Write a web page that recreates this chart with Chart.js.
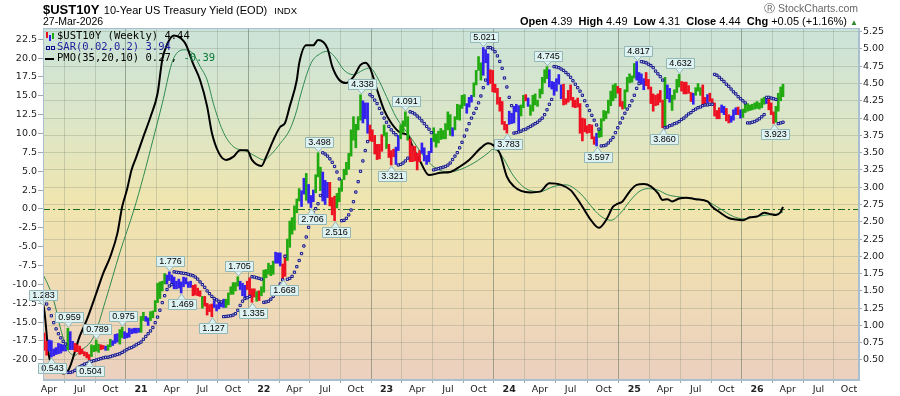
<!DOCTYPE html>
<html>
<head>
<meta charset="utf-8">
<script src="https://cdn.jsdelivr.net/npm/chart.js@4.4.1/dist/chart.umd.min.js"></script>
<style>
  body { margin: 0; width: 900px; height: 396px; overflow: hidden; background: #fff; position: relative; font-family: "Liberation Sans", Arial, sans-serif; }
  #chart { position: absolute; left: 0; top: 0; }
  .txt { position: absolute; white-space: nowrap; line-height: 1; color: #000; }
  .leg { position: absolute; left: 45px; white-space: nowrap; font-family: "DejaVu Sans Mono", monospace; font-size: 10.5px; line-height: 11px; }
  .ico { display: inline-block; vertical-align: middle; }
</style>
</head>
<body>
<canvas id="chart" width="900" height="396"></canvas>

<div class="txt" style="left:43px;top:1px;">
  <span style="font-weight:bold;font-size:13px;">$UST10Y</span>
  <span style="font-size:11px;">10-Year US Treasury Yield (EOD)</span>
  <span style="font-size:9.5px;">&nbsp;INDX</span>
</div>
<div class="txt" style="left:43px;top:16px;font-size:10.5px;">27-Mar-2026</div>
<div class="txt" style="right:42px;top:3px;font-size:10.5px;color:#666;">&#9415; StockCharts.com</div>
<div class="txt" style="right:42px;top:16px;font-size:11px;">
  <b>Open</b> 4.39&nbsp; <b>High</b> 4.49&nbsp; <b>Low</b> 4.31&nbsp; <b>Close</b> 4.44&nbsp; <b>Chg</b> +0.05 (+1.16%) <span style="color:#2a8a2a;font-size:8px;">&#9650;</span>
</div>

<div class="leg" style="top:30px;">
  <span class="ico" style="width:12px;height:9px;position:relative;">
    <span style="position:absolute;left:1px;top:0;width:2px;height:6px;background:#ee1122;"></span>
    <span style="position:absolute;left:4px;top:3px;width:2px;height:6px;background:#3322ee;"></span>
    <span style="position:absolute;left:7px;top:1px;width:2px;height:6px;background:#22aa11;"></span>
  </span><span>$UST10Y (Weekly) 4.44</span>
</div>
<div class="leg" style="top:41px;color:#1c1c9c;">
  <span class="ico" style="width:12px;height:9px;position:relative;">
    <span style="position:absolute;left:1px;top:3px;width:2px;height:2px;border:1px solid #14148a;background:#cfd6f2;"></span>
    <span style="position:absolute;left:6px;top:3px;width:2px;height:2px;border:1px solid #14148a;background:#cfd6f2;"></span>
  </span><span>SAR(0.02,0.2) 3.94</span>
</div>
<div class="leg" style="top:52px;">
  <span class="ico" style="width:12px;height:9px;position:relative;">
    <span style="position:absolute;left:0;top:4px;width:9px;height:2px;background:#000;"></span>
  </span><span>PMO(35,20,10) 0.27, <span style="color:#0a7a3a;">-0.39</span></span>
</div>

<script>
// weekly bars, index 0 = week ending Fri 20-Mar-2020
const startDate = Date.UTC(2020, 2, 20);
const DAY = 86400000;

const weekHigh = [
  // 2020
  1.283, 0.89, 0.77, 0.79, 0.78, 0.66, 0.68, 0.74, 0.73, 0.72, 0.71, 0.959, 0.91, 0.77, 0.74, 0.72, 0.70, 0.66, 0.62, 0.61, 0.58,
  0.72, 0.71, 0.789, 0.73, 0.72, 0.71, 0.70, 0.72, 0.80, 0.78, 0.87, 0.88, 0.94, 0.975, 0.91, 0.89, 0.96, 0.95, 0.96, 0.96,
  // 2021
  0.96, 1.13, 1.19, 1.13, 1.11, 1.20, 1.21, 1.36, 1.61, 1.63, 1.64, 1.75, 1.73, 1.776, 1.73, 1.70, 1.64, 1.67, 1.63, 1.70, 1.69,
  1.63, 1.64, 1.58, 1.59, 1.54, 1.50, 1.42, 1.42, 1.32, 1.30, 1.31, 1.36, 1.30, 1.33, 1.34, 1.38, 1.38, 1.47, 1.56, 1.62, 1.62,
  1.705, 1.64, 1.61, 1.58, 1.64, 1.69, 1.53, 1.53, 1.49, 1.50, 1.56,
  // 2022
  1.80, 1.81, 1.90, 1.87, 1.93, 2.06, 2.05, 2.05, 1.89, 2.02, 2.25, 2.51, 2.56, 2.73, 2.83, 2.98, 2.95, 3.13, 3.20, 3.04, 2.88,
  2.96, 3.18, 3.498, 3.29, 3.22, 3.10, 3.07, 3.07, 2.85, 2.87, 2.91, 2.99, 3.11, 3.26, 3.36, 3.49, 3.83, 4.02, 3.91, 4.02, 4.338,
  4.25, 4.22, 4.22, 3.90, 3.83, 3.75, 3.62, 3.62, 3.76, 3.90,
  // 2023
  3.79, 3.62, 3.53, 3.55, 3.58, 3.75, 3.90, 3.96, 4.091, 4.02, 3.70, 3.60, 3.59, 3.49, 3.53, 3.64, 3.57, 3.46, 3.52, 3.71, 3.86,
  3.77, 3.81, 3.85, 3.82, 3.92, 4.09, 4.05, 3.86, 4.02, 4.20, 4.19, 4.33, 4.34, 4.21, 4.30, 4.33, 4.51, 4.69, 4.89, 4.80, 5.021,
  4.99, 4.93, 4.70, 4.69, 4.49, 4.43, 4.30, 4.24, 3.95, 3.91,
  // 2024
  4.10, 4.07, 4.17, 4.20, 4.18, 4.19, 4.33, 4.34, 4.29, 4.19, 4.33, 4.35, 4.26, 4.42, 4.59, 4.70, 4.745, 4.70, 4.53, 4.52, 4.57,
  4.63, 4.48, 4.49, 4.28, 4.40, 4.48, 4.30, 4.26, 4.29, 4.21, 4.00, 3.99, 3.89, 3.91, 3.90, 3.73, 3.78, 3.83, 3.99, 4.11, 4.10,
  4.26, 4.39, 4.48, 4.50, 4.46, 4.43, 4.24, 4.41, 4.59, 4.64,
  // 2025 - 2026
  4.61, 4.79, 4.817, 4.66, 4.64, 4.57, 4.66, 4.56, 4.45, 4.35, 4.33, 4.35, 4.40, 4.26, 4.59, 4.48, 4.43, 4.33, 4.41, 4.56, 4.632,
  4.53, 4.52, 4.52, 4.47, 4.37, 4.36, 4.44, 4.50, 4.44, 4.48, 4.30, 4.34, 4.36, 4.28, 4.22, 4.11, 4.15, 4.19, 4.17, 4.14, 4.05,
  4.03, 4.12, 4.15, 4.16, 4.12, 4.13, 4.20, 4.21, 4.19, 4.20, 4.22, 4.24, 4.22, 4.28, 4.30, 4.28, 4.27, 4.22, 4.09, 4.17, 4.36,
  4.45, 4.49
];

const weekLow = [
  // 2020
  0.70, 0.64, 0.57, 0.63, 0.543, 0.56, 0.58, 0.59, 0.60, 0.63, 0.63, 0.65, 0.65, 0.65, 0.62, 0.62, 0.58, 0.59, 0.56, 0.53, 0.504,
  0.55, 0.62, 0.63, 0.61, 0.65, 0.66, 0.64, 0.64, 0.69, 0.71, 0.74, 0.76, 0.73, 0.82, 0.81, 0.82, 0.83, 0.88, 0.89, 0.89,
  // 2021
  0.90, 0.90, 1.07, 1.06, 1.00, 1.07, 1.11, 1.20, 1.33, 1.39, 1.50, 1.60, 1.60, 1.65, 1.58, 1.53, 1.53, 1.54, 1.469, 1.56, 1.60,
  1.55, 1.55, 1.43, 1.44, 1.43, 1.42, 1.25, 1.28, 1.15, 1.20, 1.127, 1.26, 1.21, 1.24, 1.27, 1.26, 1.26, 1.30, 1.45, 1.45, 1.50,
  1.57, 1.52, 1.43, 1.41, 1.52, 1.43, 1.335, 1.41, 1.35, 1.36, 1.43,
  // 2022
  1.48, 1.69, 1.74, 1.72, 1.74, 1.90, 1.90, 1.86, 1.668, 1.71, 1.94, 2.13, 2.32, 2.38, 2.63, 2.80, 2.72, 2.90, 2.81, 2.77, 2.706,
  2.79, 2.92, 3.15, 2.95, 2.80, 2.75, 2.85, 2.73, 2.60, 2.516, 2.70, 2.79, 2.94, 3.11, 3.18, 3.26, 3.45, 3.68, 3.57, 3.83, 3.97,
  3.93, 3.99, 3.78, 3.67, 3.66, 3.48, 3.40, 3.41, 3.52, 3.74,
  // 2023
  3.56, 3.43, 3.321, 3.44, 3.33, 3.53, 3.70, 3.79, 3.88, 3.68, 3.37, 3.37, 3.38, 3.25, 3.37, 3.49, 3.38, 3.33, 3.37, 3.50, 3.66,
  3.58, 3.64, 3.69, 3.70, 3.70, 3.83, 3.75, 3.74, 3.83, 3.98, 3.97, 4.14, 4.18, 4.07, 4.16, 4.23, 4.31, 4.48, 4.69, 4.55, 4.62,
  4.80, 4.48, 4.50, 4.38, 4.37, 4.20, 4.10, 3.91, 3.83, 3.783,
  // 2024
  3.91, 3.92, 3.93, 4.09, 3.82, 4.03, 4.15, 4.25, 4.17, 4.04, 4.10, 4.19, 4.17, 4.29, 4.35, 4.51, 4.57, 4.45, 4.42, 4.33, 4.39,
  4.49, 4.28, 4.19, 4.20, 4.23, 4.26, 4.16, 4.15, 4.16, 3.78, 3.67, 3.80, 3.78, 3.79, 3.70, 3.62, 3.597, 3.72, 3.73, 3.96, 3.99,
  4.07, 4.18, 4.25, 4.29, 4.36, 4.17, 4.13, 4.14, 4.38, 4.51,
  // 2025 - 2026
  4.52, 4.58, 4.55, 4.53, 4.49, 4.41, 4.47, 4.42, 4.21, 4.10, 4.18, 4.19, 4.23, 3.86, 3.88, 4.28, 4.23, 4.11, 4.27, 4.37, 4.45,
  4.39, 4.35, 4.35, 4.36, 4.24, 4.20, 4.33, 4.39, 4.33, 4.19, 4.19, 4.22, 4.24, 4.21, 4.03, 3.99, 3.99, 4.08, 4.05, 3.96, 3.93,
  3.94, 3.97, 4.05, 4.05, 4.00, 4.01, 4.08, 4.10, 4.11, 4.12, 4.13, 4.14, 4.13, 4.15, 4.20, 4.21, 4.12, 4.05, 3.923, 3.94, 4.10,
  4.25, 4.31
];

// Elder impulse colour of each bar: g = green, r = red, b = blue
const barColorCodes = [
  "rrrbbbbbbbbgbbrrrrrrrggggrrbggbbbggbbbbbb",
  "bggbbgggggggbbbbbbbbbbbrrrrgrrrrbbbbbggggggbbbrrrrgrg",
  "gggggbbbrrggggggbbgbbbgggbbbrrrgggggggggggbbbrrrrrrg",
  "grrrbbggggrrrrrbbbbbggggggggbgggggbbbggggbbbrrrrrrrr",
  "bbbbbggrbggggggggbbbbbbrrrrrrrrrrrrrrbggggggggrrrggg",
  "ggbbbbrrrrrrrrgbbggggrrrrrbgggrrbrrrrrbbrrbbbrbggggggggggbrrrgggg"
].join("");

// Parabolic SAR dot of each week
const sarValue = [
  1.40, 1.36, 1.31, 1.24, 1.14, 1.04, 0.95, 0.88, 0.82, 0.77, 0.73,
  0.32, 0.32, 0.33, 0.35, 0.38, 0.40, 0.42, 0.44, 0.45, 0.47, 0.48, 0.49, 0.50, 0.51, 0.52, 0.53, 0.54, 0.54, 0.55, 0.56,
  0.57, 0.58, 0.59, 0.61, 0.63, 0.65, 0.67, 0.68, 0.70, 0.72, 0.74, 0.76, 0.80, 0.84, 0.88, 0.92, 0.97, 1.04, 1.12, 1.22,
  1.33, 1.43, 1.52, 1.57, 1.59,
  1.776, 1.77, 1.765, 1.76, 1.755, 1.75, 1.74, 1.73, 1.72, 1.70, 1.67, 1.63, 1.59, 1.55, 1.50, 1.46, 1.42, 1.39, 1.37, 1.35, 1.34,
  1.127, 1.13, 1.135, 1.14, 1.15, 1.17, 1.22, 1.29, 1.35, 1.39, 1.40, 1.42,
  1.705, 1.70, 1.69, 1.68, 1.67,
  1.335, 1.34, 1.35, 1.38, 1.42, 1.47, 1.53, 1.60, 1.66,
  2.00,
  1.668, 1.68, 1.71, 1.77, 1.85, 1.94, 2.04, 2.15, 2.28, 2.42, 2.54, 2.63, 2.69, 2.76, 2.88,
  3.498, 3.48, 3.45, 3.41, 3.36, 3.30, 3.22, 3.12,
  2.516, 2.52, 2.55, 2.60, 2.67, 2.79, 2.93, 3.08, 3.23, 3.38, 3.53, 3.66,
  4.338, 4.31, 4.26, 4.21, 4.14, 4.07, 4.00, 3.94, 3.88, 3.83, 3.79, 3.76,
  3.321, 3.33, 3.35, 3.38, 3.42,
  4.091, 4.08, 4.06, 4.03, 4.00, 3.96, 3.92, 3.88, 3.84, 3.79,
  3.25, 3.26, 3.27, 3.28, 3.29, 3.30, 3.32, 3.35, 3.40, 3.45, 3.50, 3.57, 3.65, 3.74, 3.83, 3.92, 4.00, 4.07, 4.14, 4.22,
  4.32, 4.44, 4.55,
  5.021, 5.02, 5.00, 4.96, 4.90, 4.82, 4.72, 4.58, 4.45, 4.30, 4.18,
  3.783, 3.79, 3.80, 3.81, 3.83, 3.84, 3.86, 3.88, 3.90, 3.92, 3.94, 3.97, 4.00, 4.05, 4.12, 4.20, 4.27,
  4.745, 4.74, 4.73, 4.71, 4.69, 4.66, 4.63, 4.59, 4.54, 4.49, 4.44, 4.39, 4.33, 4.25, 4.18, 4.11, 4.04, 3.97, 3.90, 3.84,
  3.597, 3.60, 3.61, 3.64, 3.68, 3.72, 3.79, 3.86, 3.93, 4.00, 4.07, 4.13, 4.18, 4.25, 4.33, 4.43, 4.50,
  4.817, 4.81, 4.80, 4.78, 4.76, 4.73, 4.68, 4.64, 4.60, 4.55,
  3.86, 3.87, 3.89, 3.90, 3.92, 3.93, 3.95, 3.98, 4.00, 4.03, 4.06, 4.08, 4.11, 4.13, 4.15, 4.16, 4.18, 4.19, 4.19, 4.20, 4.20,
  4.632, 4.62, 4.59, 4.56, 4.53, 4.49, 4.46, 4.42, 4.38, 4.35, 4.31, 4.28, 4.25, 4.22,
  3.93, 3.93, 3.94, 3.95, 3.97, 3.99, 4.02, 4.05,
  4.30, 4.30, 4.29, 4.28, 4.27,
  3.92, 3.93, 3.94
];

// PMO(35,20,10) line and its signal, read at these weeks
const pmoWeek = [0, 1, 3, 6, 9, 11, 16, 19, 23, 26, 29, 32, 34, 36, 38, 40, 43, 46, 49, 51, 53, 56, 59, 61, 64, 67, 70, 72, 75, 78,
  81, 84, 87, 89, 93, 95, 98, 101, 103, 105, 108, 109, 112, 115, 117, 121, 123, 126, 129, 132, 135, 137, 139, 142, 145, 148,
  152, 155, 157, 160, 164, 169, 173, 177, 181, 186, 189, 191, 194, 197, 200, 203, 207, 211, 215, 220, 224, 228, 232, 236,
  239, 242, 244, 246, 249, 252, 255, 258, 261, 263, 265, 267, 270, 273, 277, 282, 284, 287, 291, 294, 297, 300, 303, 306,
  309, 311, 313, 314];
const pmoValue = [-12, -13.4, -19.5, -21.2, -21.8, -21.5, -16.9, -14.7, -11.2, -8.5, -6.3, -3.2, 0.3, 2.5, 5.2, 6.9, 9.6, 12.2,
  15.3, 19.8, 21.8, 23.0, 22.6, 21.8, 19.3, 17.1, 13.6, 10.1, 7.4, 6.5, 6.9, 7.8, 7.8, 6.5, 5.7, 6.9, 9.1, 10.9, 11.4, 13.6,
  17.1, 19.3, 21.7, 21.7, 22.4, 21.3, 18.9, 17.1, 16.7, 17.5, 19.1, 19.4, 18.7, 15.8, 13.1, 11.4, 10.1, 9.8, 8.3, 6.5, 4.5,
  4.8, 4.9, 5.6, 6.5, 8.1, 8.7, 8.5, 7.4, 4.3, 3.0, 2.4, 2.2, 2.3, 3.4, 3.2, 2.5, 0.8, -1.2, -2.5, -1.5, 0.3, 0.7, 1.0, 2.3,
  3.2, 3.3, 3.0, 2.1, 1.2, 1.3, 1.0, 1.4, 1.5, 1.3, 1.0, 0.3, -0.4, -1.2, -1.4, -1.5, -1.1, -1.0, -0.5, -0.7, -0.8, -0.4, 0.27];

const signalWeek = [0, 1, 5, 8, 11, 14, 16, 22, 27, 33, 39, 43, 47, 51, 55, 57, 60, 64, 67, 70, 73, 77, 81, 87, 91, 94, 97, 101,
  105, 108, 109, 114, 118, 121, 124, 128, 132, 136, 139, 142, 146, 150, 156, 162, 166, 172, 177, 183, 189, 191, 194, 200,
  205, 211, 217, 222, 228, 234, 237, 241, 245, 249, 253, 257, 261, 265, 270, 276, 282, 287, 293, 297, 301, 307, 311, 314];
const signalValue = [-8.5, -9.0, -12.1, -16.0, -18.7, -19.4, -18.9, -16.9, -12.1, -5.8, -0.1, 4.3, 9.1, 14.0, 19.3, 20.6, 21.1,
  20.6, 18.9, 17.1, 13.6, 10.1, 8.3, 7.6, 6.9, 6.5, 7.2, 8.7, 10.5, 13.1, 14.4, 19.3, 20.6, 20.9, 20.2, 18.4, 17.8, 18.4,
  18.7, 17.5, 14.9, 12.2, 9.6, 6.9, 5.6, 4.9, 5.2, 6.1, 7.4, 7.9, 7.4, 4.3, 2.7, 2.3, 3.0, 3.2, 2.1, -0.1, -1.0, -1.5, -0.6,
  1.0, 2.3, 2.7, 2.5, 1.9, 1.6, 1.4, 1.0, 0.1, -1.0, -1.3, -1.1, -0.8, -0.7, -0.39];

// swing labels
const peakWeek = [0, 11, 23, 34, 54, 83, 117, 135, 154, 187, 214, 252, 270];
const peakValue = [1.283, 0.959, 0.789, 0.975, 1.776, 1.705, 3.498, 4.338, 4.091, 5.021, 4.745, 4.817, 4.632];
const troughWeek = [4, 20, 59, 72, 89, 102, 114, 124, 148, 197, 235, 263, 310];
const troughValue = [0.543, 0.504, 1.469, 1.127, 1.335, 1.668, 2.706, 2.516, 3.321, 3.783, 3.597, 3.860, 3.923];

const priceTicks = [0.50, 0.75, 1.00, 1.25, 1.50, 1.75, 2.00, 2.25, 2.50, 2.75, 3.00, 3.25, 3.50, 3.75, 4.00, 4.25, 4.50, 4.75, 5.00, 5.25];
const pmoTicks = [-20, -17.5, -15, -12.5, -10, -7.5, -5, -2.5, 0, 2.5, 5, 7.5, 10, 12.5, 15, 17.5, 20, 22.5];
const monthNames = { 3: "Apr", 6: "Jul", 9: "Oct" };

// quarter marks: first week whose Monday falls in Jan/Apr/Jul/Oct
function weekMonday(k) { return new Date(startDate + (k * 7 - 4) * DAY); }
const quarterWeeks = [];
const quarterLabel = {};
for (let k = 1; k <= 346; k++) {
  const m = weekMonday(k), p = weekMonday(k - 1);
  if (m.getUTCMonth() !== p.getUTCMonth() && m.getUTCMonth() % 3 === 0) {
    quarterWeeks.push(k);
    quarterLabel[k] = m.getUTCMonth() === 0 ? String(m.getUTCFullYear() % 100) : monthNames[m.getUTCMonth()];
  }
}
const isYear = v => /^\d+$/.test(quarterLabel[v] || "");

const colorMap = { g: "#22aa11", r: "#ee1122", b: "#3322ee" };
const bars = weekHigh.map((h, k) => ({ x: k, y: [weekLow[k], h] }));
const sarPts = sarValue.map((v, k) => ({ x: k, y: v }));
const pmoPts = pmoWeek.map((w, i) => ({ x: w, y: pmoValue[i] }));
const sigPts = signalWeek.map((w, i) => ({ x: w, y: signalValue[i] }));

const backdrop = {
  id: "backdrop",
  beforeDraw(chart) {
    const { ctx, chartArea: a } = chart;
    const g = ctx.createLinearGradient(0, a.top, 0, a.bottom);
    g.addColorStop(0, "#cbe3d9");
    g.addColorStop(0.28, "#dde6c6");
    g.addColorStop(0.5, "#f0e5ae");
    g.addColorStop(0.72, "#efdcb4");
    g.addColorStop(1, "#ebd0bf");
    ctx.save();
    ctx.fillStyle = g;
    ctx.fillRect(a.left, a.top, a.right - a.left, a.bottom - a.top);
    ctx.restore();
  },
  beforeDatasetsDraw(chart) {
    const { ctx, chartArea: a } = chart;
    const y = Math.round(chart.scales.yL.getPixelForValue(0)) + 0.5;
    ctx.save();
    ctx.strokeStyle = "#1d6b2a";
    ctx.lineWidth = 1;
    ctx.setLineDash([7, 3, 2, 3]);
    ctx.beginPath();
    ctx.moveTo(a.left, y);
    ctx.lineTo(a.right, y);
    ctx.stroke();
    ctx.restore();
  },
  afterDraw(chart) {
    const { ctx, chartArea: a } = chart;
    ctx.save();
    ctx.strokeStyle = "#a9bfcf";
    ctx.lineWidth = 1;
    ctx.strokeRect(a.left + 0.5, a.top + 0.5, a.right - a.left - 1, a.bottom - a.top - 1);
    ctx.restore();
  }
};

const swingLabels = {
  id: "swingLabels",
  afterDatasetsDraw(chart) {
    const { ctx } = chart;
    const xs = chart.scales.x, ys = chart.scales.yR;
    ctx.save();
    ctx.font = "9px 'Liberation Sans', Arial, sans-serif";
    ctx.textAlign = "center";
    ctx.textBaseline = "middle";
    const draw = (w, v, up) => {
      const px = Math.round(xs.getPixelForValue(w)) + 0.5;
      const py = ys.getPixelForValue(v);
      const txt = v.toFixed(3);
      const bw = Math.ceil(ctx.measureText(txt).width) + 5, bh = 10;
      const tip = up ? py - 1 : py + 1;
      const base = up ? tip - 5 : tip + 5;
      const top = up ? base - bh : base;
      const left = Math.round(px - bw / 2) + 0.5;
      ctx.fillStyle = "#def2f2";
      ctx.strokeStyle = "#93b6b6";
      ctx.lineWidth = 1;
      ctx.beginPath();
      ctx.rect(left, Math.round(top) + 0.5, bw, bh);
      ctx.fill();
      ctx.stroke();
      ctx.beginPath();
      ctx.moveTo(px - 4, Math.round(base) + 0.5);
      ctx.lineTo(px, tip);
      ctx.lineTo(px + 4, Math.round(base) + 0.5);
      ctx.closePath();
      ctx.fill();
      ctx.beginPath();
      ctx.moveTo(px - 4, Math.round(base) + 0.5);
      ctx.lineTo(px, tip);
      ctx.lineTo(px + 4, Math.round(base) + 0.5);
      ctx.stroke();
      ctx.fillStyle = "#000";
      ctx.fillText(txt, left + bw / 2, Math.round(top) + bh / 2 + 1);
    };
    peakWeek.forEach((w, i) => draw(w, peakValue[i], true));
    troughWeek.forEach((w, i) => draw(w, troughValue[i], false));
    ctx.restore();
  }
};

const tickFont = { family: "'DejaVu Sans', sans-serif", size: 9.5 };

new Chart(document.getElementById("chart"), {
  type: "bar",
  data: {
    datasets: [
      {
        type: "bar", data: bars, yAxisID: "yR", order: 2, clip: 0,
        backgroundColor: barColorCodes.split("").map(c => colorMap[c]),
        barThickness: 2, grouped: false, borderWidth: 0
      },
      {
        type: "line", data: sarPts, yAxisID: "yR", order: 1, clip: 0, showLine: false,
        pointStyle: "rect", pointRadius: 1.6, pointBorderWidth: 1,
        pointBorderColor: "#14148a", pointBackgroundColor: "#cfd6f2"
      },
      {
        type: "line", data: pmoPts, yAxisID: "yL", order: 3, clip: 0,
        borderColor: "#000", borderWidth: 2, pointRadius: 0, cubicInterpolationMode: "monotone"
      },
      {
        type: "line", data: sigPts, yAxisID: "yL", order: 4, clip: 0,
        borderColor: "#2f8a50", borderWidth: 1, pointRadius: 0, cubicInterpolationMode: "monotone"
      }
    ]
  },
  options: {
    responsive: false,
    animation: false,
    devicePixelRatio: 1,
    layout: { padding: { top: 28, left: 0, right: 0, bottom: 0 } },
    plugins: { legend: { display: false }, tooltip: { enabled: false } },
    scales: {
      x: {
        type: "linear", min: 0.46, max: 346.2, offset: false,
        afterBuildTicks: s => { s.ticks = quarterWeeks.map(v => ({ value: v })); },
        afterFit: s => { s.height = 16; },
        ticks: {
          autoSkip: false, maxRotation: 0, padding: 1, color: "#222",
          font: c => ({ family: tickFont.family, size: 9.5, weight: c.tick && isYear(c.tick.value) ? "bold" : "normal" }),
          callback: v => quarterLabel[v] || ""
        },
        grid: {
          color: c => (c.tick && isYear(c.tick.value)) ? "rgba(95,115,95,0.55)" : "rgba(120,130,110,0.28)",
          tickLength: 3, tickColor: "#9aa8b4"
        },
        border: { color: "#a9bfcf" }
      },
      yR: {
        position: "right", min: 0.2106, max: 5.3035,
        afterBuildTicks: s => { s.ticks = priceTicks.map(v => ({ value: v })); },
        afterFit: s => { s.width = 41; },
        ticks: { padding: 1, color: "#222", font: tickFont, callback: v => v.toFixed(2) },
        grid: { color: "rgba(120,130,110,0.28)", tickLength: 3, tickColor: "#9aa8b4" },
        border: { color: "#a9bfcf" }
      },
      yL: {
        position: "left", min: -22.67, max: 23.99,
        afterBuildTicks: s => { s.ticks = pmoTicks.map(v => ({ value: v })); },
        afterFit: s => { s.width = 43; },
        ticks: { padding: 1, color: "#222", font: tickFont, callback: v => v.toFixed(1) },
        grid: { drawOnChartArea: false, tickLength: 5, tickColor: "#9aa8b4" },
        border: { color: "#a9bfcf" }
      }
    }
  },
  plugins: [backdrop, swingLabels]
});
</script>
</body>
</html>
